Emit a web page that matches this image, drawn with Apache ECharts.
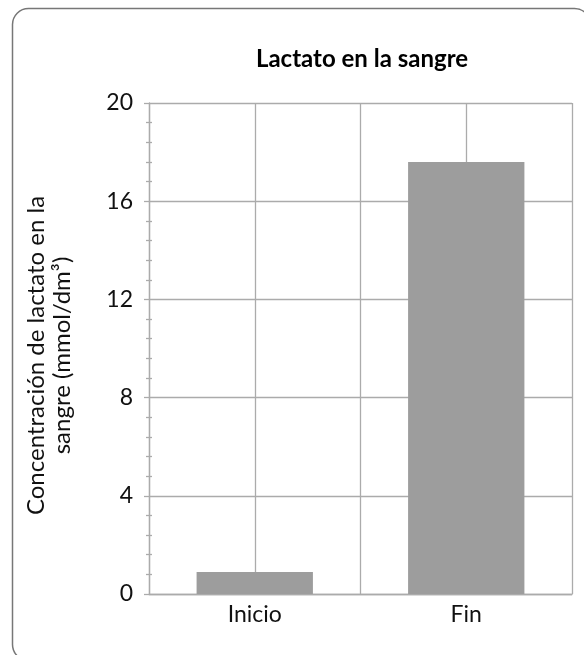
<!DOCTYPE html>
<html>
<head>
<meta charset="utf-8">
<script src="https://cdn.jsdelivr.net/npm/echarts@6/dist/echarts.min.js"></script>
<style>
  html, body { margin: 0; padding: 0; background: #fff; }
  #chart { width: 584px; height: 655px; }
</style>
</head>
<body>
<div id="chart"></div>
<script>
const categories = ["Inicio", "Fin"];
const lactato = [0.9, 17.6];
const yMin = 0;
const yMax = 20;
const yStep = 4;

const chart = echarts.init(document.getElementById("chart"));
const grey = "#ababab";
const font = "Lato, 'Open Sans', sans-serif";

const option = {
  backgroundColor: "#fff",
  animation: false,
  title: {
    text: "Lactato en la sangre",
    left: 357,
    textAlign: "center",
    top: 42,
    textStyle: { fontFamily: font, fontSize: 24, fontWeight: "bold", color: "#000" },
  },
  graphic: [
    {
      type: "rect",
      shape: { x: 12.5, y: 8.5, width: 578, height: 652, r: 16 },
      style: { fill: "none", stroke: "#777", lineWidth: 1.5 },
      z: 100,
    },
  ],
  grid: { left: 149, right: 12, top: 103, bottom: 61 },
  xAxis: [
    {
      type: "category",
      data: categories,
      axisLine: { lineStyle: { color: grey, width: 1.3 } },
      axisTick: { show: false },
      splitLine: { show: false },
      axisLabel: { fontFamily: font, fontSize: 23, color: "#111", margin: 9 },
    },
    {
      // only gives the vertical grid lines at category edges and centres
      type: "value",
      min: 0,
      max: 2,
      interval: 0.5,
      position: "top",
      axisLine: { show: false },
      axisTick: { show: false },
      axisLabel: { show: false },
      splitLine: { show: true, lineStyle: { color: grey, width: 1.3 } },
    },
  ],
  yAxis: [
    {
      type: "value",
      min: yMin,
      max: yMax,
      interval: yStep,
      name: "Concentración de lactato en la\nsangre (mmol/dm³)",
      nameLocation: "middle",
      nameGap: 74,
      nameRotate: 90,
      nameTextStyle: {
        fontFamily: font,
        fontSize: 24,
        color: "#111",
        lineHeight: 26,
        padding: [0, 14, 0, 0],
      },
      axisLine: { show: true, lineStyle: { color: grey, width: 1.3 } },
      axisTick: { show: true, length: 5, lineStyle: { color: grey, width: 1.3 } },
      minorTick: { show: true, splitNumber: 5, length: 3, lineStyle: { color: grey, width: 1.3 } },
      splitLine: { show: true, lineStyle: { color: grey, width: 1.3 } },
      axisLabel: { fontFamily: font, fontSize: 23, color: "#111", margin: 16 },
    },
    {
      // inner half of the minor ticks
      type: "value",
      min: yMin,
      max: yMax,
      interval: yStep,
      position: "left",
      axisLine: { show: false },
      axisTick: { show: false, inside: true },
      minorTick: { show: true, splitNumber: 5, length: 3, lineStyle: { color: grey, width: 1.3 } },
      splitLine: { show: false },
      axisLabel: { show: false },
    },
  ],
  series: [
    {
      type: "bar",
      data: lactato,
      barWidth: "55%",
      itemStyle: { color: "#9d9d9d" },
      z: 3,
    },
  ],
};

chart.setOption(option);
</script>
</body>
</html>
